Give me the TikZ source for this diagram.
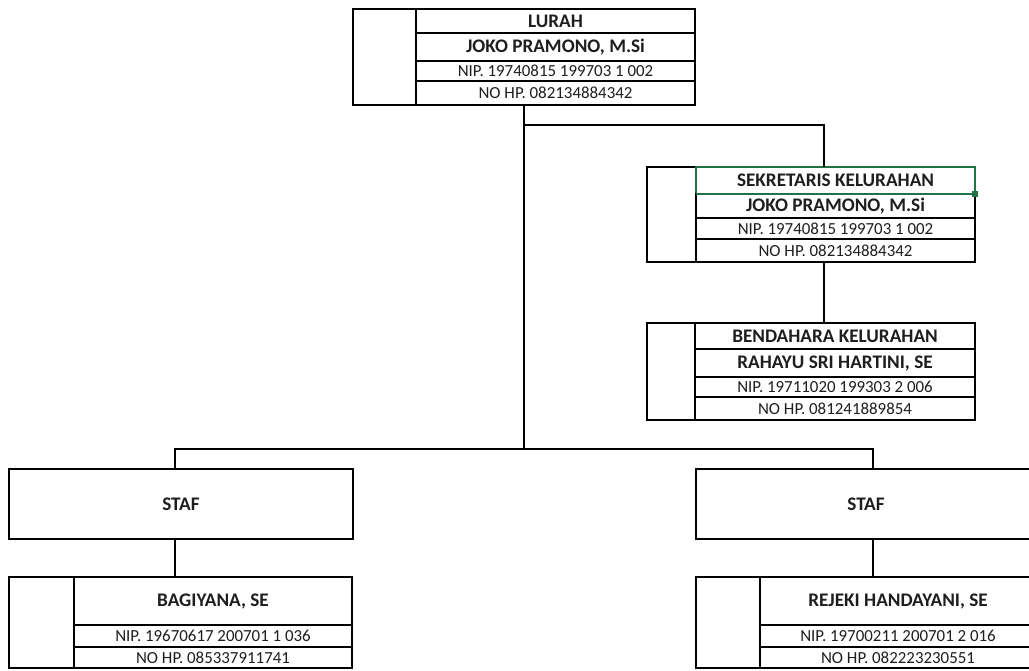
\documentclass[tikz,border=0pt]{standalone}
\usepackage{fontspec}
\setmainfont{Carlito}
\definecolor{xlgreen}{RGB}{33,115,70}
\definecolor{txt}{RGB}{30,30,30}
\newcommand\boldtxt{\fontsize{19.2}{20}\selectfont\bfseries}
\newcommand\regtxt{\fontsize{16.9}{18}\selectfont}
\begin{document}
\begin{tikzpicture}[x=1pt,y=-1pt,
  cell/.style={draw, line width=1.8pt, anchor=north west, inner sep=0pt, outer sep=0pt, text=txt},
  bcell/.style={cell, font=\boldtxt},
  rcell/.style={cell, font=\regtxt},
  conn/.style={draw, line width=1.1pt}]
\fill[white] (0,0) rectangle (1029,670);
\clip (0,0) rectangle (1029,670);

% ---- LURAH box
\node[cell, minimum width=342pt, minimum height=96pt] (lurahbox) at (353,9) {};
\node[cell, minimum width=63pt, minimum height=96pt] (lurahL) at (353,9) {};
\node[bcell, minimum width=279pt, minimum height=24pt] (lurahT) at (416,9) {LURAH};
\node[bcell, minimum width=279pt, minimum height=28pt] (lurahN) at (416,33) {JOKO PRAMONO, M.Si};
\node[rcell, minimum width=279pt, minimum height=20pt] (lurahP) at (416,61) {NIP. 19740815 199703 1 002};
\node[rcell, minimum width=279pt, minimum height=24pt] (lurahH) at (416,81) {NO HP. 082134884342};

% ---- SEKRETARIS box
\node[cell, minimum width=328pt, minimum height=95pt] (sekbox) at (647,167) {};
\node[cell, minimum width=49pt, minimum height=95pt] (sekL) at (647,167) {};
\node[bcell, minimum width=279pt, minimum height=27pt, draw=xlgreen, line width=1.4pt] (sekT) at (696,167) {SEKRETARIS KELURAHAN};
\node[bcell, minimum width=279pt, minimum height=24pt] (sekN) at (696,194) {JOKO PRAMONO, M.Si};
\node[rcell, minimum width=279pt, minimum height=21pt] (sekP) at (696,218) {NIP. 19740815 199703 1 002};
\node[rcell, minimum width=279pt, minimum height=23pt] (sekH) at (696,239) {NO HP. 082134884342};
\draw[xlgreen, line width=1.4pt] (sekT.south west) -- (sekT.south east);
\fill[xlgreen] ([xshift=-3pt,yshift=-3pt]sekT.south east) rectangle ([xshift=3pt,yshift=3pt]sekT.south east);

% ---- BENDAHARA box
\node[cell, minimum width=328pt, minimum height=97pt] (benbox) at (647,323) {};
\node[cell, minimum width=48pt, minimum height=97pt] (benL) at (647,323) {};
\node[bcell, minimum width=280pt, minimum height=26pt] (benT) at (695,323) {BENDAHARA KELURAHAN};
\node[bcell, minimum width=280pt, minimum height=28pt] (benN) at (695,349) {RAHAYU SRI HARTINI, SE};
\node[rcell, minimum width=280pt, minimum height=20pt] (benP) at (695,377) {NIP. 19711020 199303 2 006};
\node[rcell, minimum width=280pt, minimum height=23pt] (benH) at (695,397) {NO HP. 081241889854};

% ---- STAF boxes
\node[bcell, minimum width=344pt, minimum height=70pt] (stafL) at (9,469) {STAF};
\node[bcell, minimum width=340pt, minimum height=70pt] (stafR) at (696,469) {STAF};

% ---- bottom left
\node[cell, minimum width=343pt, minimum height=91pt] (bagbox) at (9,577) {};
\node[cell, minimum width=65pt, minimum height=91pt] (bagL) at (9,577) {};
\node[bcell, minimum width=278pt, minimum height=48pt] (bagN) at (74,577) {BAGIYANA, SE};
\node[rcell, minimum width=278pt, minimum height=22pt] (bagP) at (74,625) {NIP. 19670617 200701 1 036};
\node[rcell, minimum width=278pt, minimum height=21pt] (bagH) at (74,647) {NO HP. 085337911741};

% ---- bottom right
\node[cell, minimum width=340pt, minimum height=91pt] (rejbox) at (696,577) {};
\node[cell, minimum width=64pt, minimum height=91pt] (rejL) at (696,577) {};
\node[bcell, minimum width=276pt, minimum height=48pt] (rejN) at (760,577) {REJEKI HANDAYANI, SE};
\node[rcell, minimum width=276pt, minimum height=22pt] (rejP) at (760,625) {NIP. 19700211 200701 2 016};
\node[rcell, minimum width=276pt, minimum height=21pt] (rejH) at (760,647) {NO HP. 082223230551};

% ---- connectors
\coordinate (j1) at (524,125);
\coordinate (barmid) at (524,449);
\coordinate (sekin) at (824,167);
\coordinate (sekout) at (824,262);
\coordinate (benin) at (824,323);
\coordinate (stafLin) at (175,469);
\coordinate (stafRin) at (873,469);
\coordinate (stafLout) at (175,539);
\coordinate (stafRout) at (873,539);
\coordinate (bagin) at (175,577);
\coordinate (rejin) at (873,577);

\draw[conn] (lurahbox.south) -- (barmid);
\draw[conn] (j1) -| (sekin);
\draw[conn] (sekout) -- (benin);
\draw[conn] (stafLin) |- (barmid) -| (stafRin);
\draw[conn] (stafLout) -- (bagin);
\draw[conn] (stafRout) -- (rejin);
\end{tikzpicture}
\end{document}
